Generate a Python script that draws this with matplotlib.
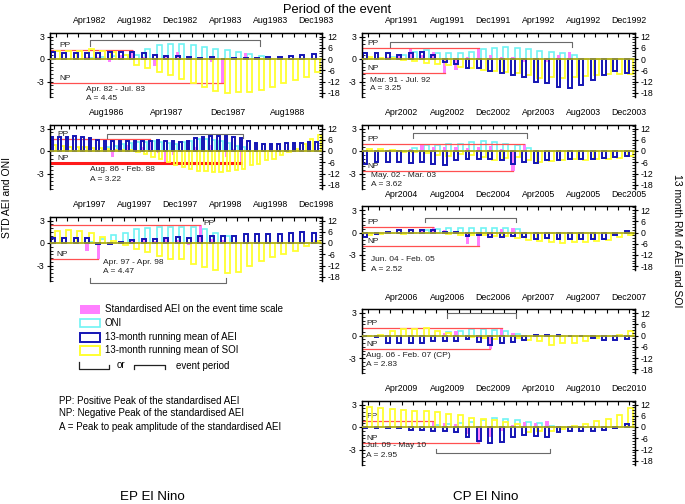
import numpy as np
import matplotlib
matplotlib.use('Agg')
import matplotlib.pyplot as plt
from matplotlib.ticker import MultipleLocator
from matplotlib.patches import Rectangle

plt.rcParams['font.family'] = ['Liberation Sans', 'DejaVu Sans']
plt.rcParams['axes.unicode_minus'] = False

N = None
MONTHS = ['Jan', 'Feb', 'Mar', 'Apr', 'May', 'Jun', 'Jul', 'Aug', 'Sep', 'Oct', 'Nov', 'Dec']

# ---------------- EP El Nino 1982-83 ----------------
L1_start = 1982
L1_ticks = ['Apr1982', 'Aug1982', 'Dec1982', 'Apr1983', 'Aug1983', 'Dec1983']
L1_oni = [N, N, N, 0.2, 0.3, 0.4, 0.5, 0.6, 1.4, 1.9, 2.0, 2.0, 1.9, 1.6, 1.4, 1.15, 0.9, 0.7, 0.35, N, N, N, N, N]
L1_aei = [N, N, N, 0.3, 0.3, -0.35, 0.5, 1.2, 0.3, -0.9, 0.4, 0.9, 0.3, 0.2, -0.4, -3.25, 0.2, 0.8, 0.3, N, N, N, N, N]
L1_rm_aei = [3.5, 3.3, 3.3, 3.3, 3.3, 3.5, 3.7, 3.7, 3.4, 2.0, 1.4, 1.4, 1.0, 0.7, 1.0, 0.2, 0.5, 0.7, 0.4, 0.9, 1.2, 1.4, 2.1, 2.7]
L1_rm_soi = [4.5, 4.5, 4.5, 5.5, 4.5, 3.5, 2.0, -3.0, -5.0, -6.7, -8.7, -10.5, -12.8, -15.0, -17.0, -18.0, -17.6, -17.4, -16.5, -15.1, -13.0, -11.2, -9.4, -6.8]
L1_period = 'Apr. 82 - Jul. 83'
L1_amp = 'A = 4.45'

# ---------------- EP El Nino 1986-88 ----------------
L2_start = 1986
L2_ticks = ['Aug1986', 'Apr1987', 'Dec1987', 'Aug1988']
L2_oni = [N, N, N, N, N, N, N, 0.5, 0.7, 0.9, 1.1, 1.2, 1.2, 1.3, 1.2, 1.1, 1.0, 1.2, 1.4, 1.6, 1.6, 1.5, 1.3, 1.1, 0.7, 0.5,
          N, N, N, N, N, N, N, N, N, N]
L2_aei = [N, N, N, N, N, N, N, 0.3, -0.8, 0.5, 0.8, 0.4, 0.6, 1.65, -0.3, -1.4, -0.5, 0.2, 0.5, 0.5, 0.3, 0.8, 0.2, -0.8, 0.3, -1.57,
          N, N, N, N, N, N, N, N, N, N]
L2_rm_aei = [7.5, 7.5, 7.5, 7.8, 7.5, 7.0, 6.0, 5.5, 5.5, 5.5, 5.5, 5.5, 5.5, 5.5, 5.8, 5.5, 5.2, 5.0, 5.5, 7.0, 7.5, 7.8, 8.0, 7.8,
             7.5, 7.0, 5.5, 4.5, 4.0, 4.0, 4.0, 4.2, 4.5, 4.5, 4.8, 5.0]
L2_rm_soi = [3.0, 2.5, 2.0, 2.0, 2.0, 1.5, 1.5, 1.0, 0.5, 0.5, 0.5, -0.5, -1.5, -3.0, -4.0, -6.0, -7.5, -8.5, -9.5, -10.4, -10.5,
             -11.0, -11.0, -10.5, -10.0, -9.5, -7.7, -6.8, -5.0, -4.0, -2.3, -0.5, 1.0, 4.0, 6.6, 8.4]
L2_period = 'Aug. 86 - Feb. 88'
L2_amp = 'A = 3.22'

# ---------------- EP El Nino 1997-98 ----------------
L3_start = 1997
L3_ticks = ['Apr1997', 'Aug1997', 'Dec1997', 'Apr1998', 'Aug1998', 'Dec1998']
L3_oni = [N, N, N, 0.1, 0.5, 1.07, 1.4, 1.9, 2.0, 2.1, 2.2, 2.2, 2.1, 1.9, 1.3, 1.0, N, N, N, N, N, N, N, N]
L3_aei = [N, N, N, -1.0, -2.07, -0.3, 0.2, 0.3, 0.4, 0.3, 0.5, 0.4, -0.2, 2.4, 0.6, 0.4, N, N, N, N, N, N, N, N]
L3_rm_aei = [2.5, 2.5, 2.5, 2.5, -0.5, -0.5, 0.3, 1.8, 2.1, 2.1, 2.5, 3.0, 2.7, 3.6, 4.0, 4.0, 3.8, 4.8, 5.0, 5.0, 5.0, 5.4, 5.7, 5.4]
L3_rm_soi = [6.6, 7.1, 6.6, 5.4, 3.0, 1.2, -1.1, -3.2, -5.0, -6.8, -8.6, -8.6, -11.3, -13.0, -14.3, -16.0, -15.4, -12.5, -9.5,
             -7.7, -5.9, -4.1, -1.4, 1.0]
L3_period = 'Apr. 97 - Apr. 98'
L3_amp = 'A = 4.47'

# ---------------- CP El Nino 1991-92 ----------------
R1_start = 1991
R1_ticks = ['Apr1991', 'Aug1991', 'Dec1991', 'Apr1992', 'Aug1992', 'Dec1992']
R1_oni = [N, N, 0.3, 0.5, 1.0, 1.2, 0.75, 0.75, 0.75, 1.0, 1.3, 1.5, 1.65, 1.5, 1.3, 1.1, 1.0, 0.75, 0.5, N, N, N, N, N]
R1_aei = [N, N, 0.3, 0.5, 1.3, 0.6, 0.9, -1.82, -1.5, 0.3, 1.43, 0.5, 0.3, 0.3, -0.4, 0.2, -0.4, 0.5, 0.9, N, N, N, N, N]
R1_rm_aei = [3.0, 3.4, 3.4, 2.1, 3.4, 3.6, 2.1, -1.4, -2.7, -5.0, -5.0, -6.2, -7.3, -8.5, -9.8, -12.0, -12.6, -15.0, -15.6,
             -13.9, -11.2, -8.5, -6.2, -7.3]
R1_rm_soi = [1.2, 0.5, 0.5, -0.5, -1.0, -2.3, -2.7, -3.2, -4.1, -5.0, -5.9, -6.2, -6.8, -7.6, -8.5, -10.3, -9.8, -10.3, -9.8,
             -9.0, -8.5, -8.0, -8.0, -8.0]
R1_period = 'Mar. 91 - Jul. 92'
R1_amp = 'A = 3.25'

# ---------------- CP El Nino 2002-03 ----------------
R2_start = 2002
R2_ticks = ['Apr2002', 'Aug2002', 'Dec2002', 'Apr2003', 'Aug2003', 'Dec2003']
R2_oni = [N, N, N, N, 0.45, 0.85, 0.75, 1.0, 1.0, 1.2, 1.35, 1.2, 1.0, 0.75, 0.45, N, N, N, N, N, N, N, N, N]
R2_aei = [N, N, N, N, 0.3, 0.9, 0.6, 0.5, 0.6, 0.4, 0.5, 0.7, 0.3, -2.62, 1.0, N, N, N, N, N, N, N, N, N]
R2_rm_aei = [-6.8, -5.9, -5.9, -5.9, -6.2, -5.9, -6.8, -7.6, -5.0, -4.1, -4.1, -4.1, -4.6, -7.1, -5.9, -6.4, -5.0, -4.6,
             -4.1, -4.1, -4.1, -3.7, -3.2, -2.8]
R2_rm_soi = [1.0, 1.0, 0.5, -0.3, -0.5, -1.0, -2.0, -2.5, -1.5, -2.0, -3.0, -5.0, -3.5, -3.0, -5.0, -6.0, -5.5, -5.0, -4.5,
             -5.0, -4.5, -4.0, -3.5, -2.5]
R2_period = 'May. 02 - Mar. 03'
R2_amp = 'A = 3.62'

# ---------------- CP El Nino 2004-05 ----------------
R3_start = 2004
R3_ticks = ['Apr2004', 'Aug2004', 'Dec2004', 'Apr2005', 'Aug2005', 'Dec2005']
R3_oni = [N, N, N, N, N, 0.3, 0.45, 0.6, 0.6, 0.6, 0.6, 0.6, 0.6, 0.45, N, N, N, N, N, N, N, N, N, N]
R3_aei = [N, N, N, N, N, 0.5, 0.7, 0.4, 0.2, -1.55, -1.82, -0.3, 0.45, 0.55, N, N, N, N, N, N, N, N, N, N]
R3_rm_aei = [-2.3, -1.0, 0.5, 1.3, 1.5, 1.5, 1.3, 0.5, 0.3, -2.0, -1.5, -2.3, -2.3, -2.0, -2.5, -3.2, -3.0, -3.6, -3.6,
             -3.2, -3.6, -3.6, -1.5, 0.8]
R3_rm_soi = [-1.5, -1.0, -0.5, -0.8, -0.5, -0.5, -0.5, -1.0, -1.5, -1.2, -1.5, -2.0, -2.0, -3.0, -4.0, -4.5, -5.3, -5.5,
             -5.3, -5.0, -4.5, -4.0, -2.5, -1.5]
R3_period = 'Jun. 04 - Feb. 05'
R3_amp = 'A = 2.52'

# ---------------- CP El Nino 2006-07 ----------------
R4_start = 2006
R4_ticks = ['Apr2006', 'Aug2006', 'Dec2006', 'Apr2007', 'Aug2007', 'Dec2007']
R4_oni = [N, N, N, N, N, N, N, 0.45, 0.65, 0.9, 0.9, 0.8, 0.6, 0.2, N, N, N, N, N, N, N, N, N, N]
R4_aei = [N, N, N, N, N, N, N, 0.3, 0.65, 0.1, -0.3, -1.78, 1.05, 0.3, N, N, N, N, N, N, N, N, N, N]
R4_rm_aei = [-0.5, -1.0, -3.9, -4.0, -4.0, -4.0, -3.0, -3.0, -3.0, -1.8, -3.6, -5.3, -4.0, -3.6, -2.5, 0.3, 0.3, 0.2,
             -0.3, -0.5, -1.2, -2.5, -2.5, -2.0]
R4_rm_soi = [-0.5, 0.5, 2.5, 3.5, 3.5, 3.8, 2.5, 1.5, -0.5, -1.0, -1.5, -2.0, -0.5, -1.5, -2.5, -3.0, -5.3, -4.0, -4.0,
             -3.0, -1.5, -0.5, 0.5, 2.5]
R4_period = 'Aug. 06 - Feb. 07 (CP)'
R4_amp = 'A = 2.83'

# ---------------- CP El Nino 2009-10 ----------------
R5_start = 2009
R5_ticks = ['Apr2009', 'Aug2009', 'Dec2009', 'Apr2010', 'Aug2010', 'Dec2010']
R5_oni = [N, N, N, N, N, N, 0.3, 0.4, 0.5, 0.7, 0.9, 1.25, 1.1, 0.9, 0.65, 0.55, 0.2, N, N, N, N, N, N, N]
R5_aei = [N, N, N, N, N, N, 0.85, 0.6, 0.4, -0.9, -2.1, -1.3, -0.5, 0.3, 0.7, 0.5, 0.75, N, N, N, N, N, N, N]
R5_rm_aei = [-0.3, -0.3, -0.3, -0.3, -1.5, -1.5, -2.0, -2.0, -2.5, -5.3, -7.5, -8.5, -8.0, -5.5, -4.3, -5.0, -5.5, -2.5,
             -2.0, -2.0, -2.0, -1.5, -0.5, 1.5]
R5_rm_soi = [10.7, 10.1, 9.8, 9.2, 8.5, 8.5, 8.0, 7.1, 6.6, 5.0, 4.1, 3.5, 2.7, 1.5, -2.7, -2.0, -2.0, -1.0, 0.5, 1.5,
             3.0, 4.4, 6.2, 10.3]
R5_period = 'Jul. 09 - May 10'
R5_amp = 'A = 2.95'

legend_labels = ['Standardised AEI on the event time scale', 'ONI', '13-month running mean of AEI',
                 '13-month running mean of SOI']
notes = ['PP: Positive Peak of the standardised AEI', 'NP: Negative Peak of the standardised AEI',
         'A = Peak to peak amplitude of the standardised AEI']

# ---------------- styles ----------------
PINK = '#ff80ff'
CYAN = '#70f4f4'
BLUE = '#1414b4'
YELLOW = '#ffff30'
RED = '#ff5050'
GRAY = '#6a6a6a'
OLIVE = '#a8a820'

W, H = 685, 504
fig = plt.figure(figsize=(W / 100, H / 100), dpi=100)

panels = [
    dict(start=L1_start, ticks=L1_ticks, oni=L1_oni, aei=L1_aei, rma=L1_rm_aei, rms=L1_rm_soi, period=L1_period, amp=L1_amp,
         col=0, y0=59, br=(2.5, -0.8), txt=(3.2, -4.05, -5.3), labx=0.8, pp_right=False, nplw=0.9),
    dict(start=L2_start, ticks=L2_ticks, oni=L2_oni, aei=L2_aei, rma=L2_rm_aei, rms=L2_rm_soi, period=L2_period, amp=L2_amp,
         col=0, y0=151, br=(2.3, -0.6), txt=(5.3, -2.5, -3.85), labx=1.0, pp_right=False, nplw=2.2),
    dict(start=L3_start, ticks=L3_ticks, oni=L3_oni, aei=L3_aei, rma=L3_rm_aei, rms=L3_rm_soi, period=L3_period, amp=L3_amp,
         col=0, y0=243, br=(-5.3, 0.6), txt=(4.65, -2.6, -3.85), labx=0.6, pp_right=True, nplw=0.9),
    dict(start=R1_start, ticks=R1_ticks, oni=R1_oni, aei=R1_aei, rma=R1_rm_aei, rms=R1_rm_soi, period=R1_period, amp=R1_amp,
         col=1, y0=59, br=(2.3, -0.7), txt=(0.7, -2.8, -4.0), labx=0.5, pp_right=False, nplw=0.9),
    dict(start=R2_start, ticks=R2_ticks, oni=R2_oni, aei=R2_aei, rma=R2_rm_aei, rms=R2_rm_soi, period=R2_period, amp=R2_amp,
         col=1, y0=151, br=(2.4, -0.7), txt=(0.8, -3.3, -4.5), labx=0.5, pp_right=False, nplw=0.9),
    dict(start=R3_start, ticks=R3_ticks, oni=R3_oni, aei=R3_aei, rma=R3_rm_aei, rms=R3_rm_soi, period=R3_period, amp=R3_amp,
         col=1, y0=232.5, br=(2.0, -0.6), txt=(0.8, -3.6, -4.9), labx=0.5, pp_right=False, nplw=0.9),
    dict(start=R4_start, ticks=R4_ticks, oni=R4_oni, aei=R4_aei, rma=R4_rm_aei, rms=R4_rm_soi, period=R4_period, amp=R4_amp,
         col=1, y0=335.5, br=(3.0, -0.7), txt=(0.35, -2.7, -3.85), labx=0.4, pp_right=False, nplw=0.9),
    dict(start=R5_start, ticks=R5_ticks, oni=R5_oni, aei=R5_aei, rma=R5_rm_aei, rms=R5_rm_soi, period=R5_period, amp=R5_amp,
         col=1, y0=427, br=(-3.5, 0.6), txt=(0.35, -2.5, -3.8), labx=0.4, pp_right=False, nplw=0.9),
]

COLS = [(50, 272), (362, 273)]
PX_TOP, PX_BOT = 26.25, 37.5
FS_TICK = 6.3
FS_ANN = 6.0

for p in panels:
    left, width = COLS[p['col']]
    rect = [left / W, 1 - (p['y0'] + PX_BOT) / H, width / W, (PX_TOP + PX_BOT) / H]
    ax = fig.add_axes(rect)
    ax2 = ax.twinx()
    n = len(p['rma'])
    m = np.arange(n)
    oni = np.array(p['oni'], dtype=float)
    aei = np.array(p['aei'], dtype=float)
    rma = np.array(p['rma'], dtype=float)
    rms = np.array(p['rms'], dtype=float)
    sel = ~np.isnan(oni)

    ax.bar(m[sel] + 0.64, oni[sel], 0.44, fill=False, edgecolor=CYAN, linewidth=1.2)
    ax.bar(m[sel] + 0.27, aei[sel], 0.28, color=PINK, linewidth=0)
    ax2.bar(m + 0.64, rms, 0.44, fill=False, edgecolor=YELLOW, linewidth=1.3)
    ax2.bar(m + 0.27, rma, 0.34, fill=False, edgecolor=BLUE, linewidth=1.4)
    ax2.axhline(0, color=OLIVE, linewidth=1.2, zorder=4)

    # peaks
    ipp = int(np.nanargmax(aei)); inp = int(np.nanargmin(aei))
    ax.plot([0, ipp + 0.27], [aei[ipp], aei[ipp]], color=RED, linewidth=0.9)
    ax.plot([0, inp + 0.27], [aei[inp], aei[inp]], color=RED if p['nplw'] < 1.5 else '#ff1a1a', linewidth=p['nplw'])
    if p['pp_right']:
        ax.text(ipp + 0.55, aei[ipp] + 0.15, 'PP', fontsize=FS_ANN, va='center', ha='left', color='#222222')
    else:
        ax.text(p['labx'], aei[ipp] + 0.12, 'PP', fontsize=FS_ANN, va='bottom', ha='left', color='#222222')
    ax.text(p['labx'], aei[inp] + 0.12, 'NP', fontsize=FS_ANN, va='bottom', ha='left', color='#222222')

    # event period bracket
    ev = np.where(sel)[0]
    xs, xe = ev[0] + 0.5, ev[-1] + 0.5
    by, bd = p['br']
    ax.plot([xs, xs, xe, xe], [by + bd, by, by, by + bd], color=GRAY, linewidth=0.8, clip_on=False)

    tx, ty1, ty2 = p['txt']
    ax.text(tx, ty1, p['period'], fontsize=FS_ANN, va='center', ha='left', color='#222222', clip_on=False)
    ax.text(tx, ty2, p['amp'], fontsize=FS_ANN, va='center', ha='left', color='#222222', clip_on=False)

    ax.set_xlim(0, n)
    ax.set_ylim(-5, 3.5)
    ax2.set_ylim(-20, 14)

    # x ticks every month, labels on top
    labels = [''] * n
    for t in p['ticks']:
        idx = (int(t[3:]) - p['start']) * 12 + MONTHS.index(t[:3])
        labels[idx] = t
    ax.set_xticks(m + 0.5, labels=labels)
    ax.tick_params(axis='x', which='major', direction='in', length=3, width=0.8, top=True, bottom=False,
                   labeltop=True, labelbottom=False, labelsize=FS_TICK, pad=5.5)

    ax.set_yticks([-3, 0, 3], labels=['-3', '0', '3'])
    ax.yaxis.set_minor_locator(MultipleLocator(0.5))
    ax.tick_params(axis='y', which='major', direction='inout', length=4, width=0.8, labelsize=FS_TICK, pad=2,
                   left=True, right=False)
    ax.tick_params(axis='y', which='minor', direction='in', length=2, width=0.6, left=True, right=False)

    ax2.set_yticks([-18, -12, -6, 0, 6, 12], labels=['-18', '-12', '-6', '0', '6', '12'])
    ax2.yaxis.set_minor_locator(MultipleLocator(1.5))
    ax2.tick_params(axis='y', which='major', direction='inout', length=4, width=0.8, labelsize=FS_TICK, pad=2)
    ax2.tick_params(axis='y', which='minor', direction='in', length=2, width=0.6)
    for a in (ax, ax2):
        for s in a.spines.values():
            s.set_linewidth(0.9)
        a.spines['bottom'].set_visible(False)

# ---------------- overlay: legend, notes, titles ----------------
lax = fig.add_axes([0, 0, 1, 1])
lax.set_xlim(0, W)
lax.set_ylim(H, 0)
lax.axis('off')

lax.add_patch(Rectangle((80, 305), 20.5, 9, facecolor=PINK, edgecolor='none'))
lax.add_patch(Rectangle((80.5, 318.5), 20, 8, facecolor='none', edgecolor=CYAN, linewidth=1.2))
lax.add_patch(Rectangle((80.5, 333), 20, 8.5, facecolor='none', edgecolor=BLUE, linewidth=1.4))
lax.add_patch(Rectangle((80.5, 346), 20, 8.5, facecolor='none', edgecolor=YELLOW, linewidth=1.4))
for lab, yy in zip(legend_labels, [309.5, 322.5, 337.5, 350]):
    lax.text(105, yy, lab, fontsize=7, va='center', ha='left')
lax.plot([79, 79, 109, 109], [362, 368.5, 368.5, 365], color='#222222', linewidth=0.9)
lax.text(117, 364.5, 'or', fontsize=7, va='center', ha='left')
lax.plot([134, 134, 165, 165], [369, 365, 365, 369], color='#222222', linewidth=0.9)
lax.text(176, 366, 'event period', fontsize=7, va='center', ha='left')
for t, yy in zip(notes, [400.5, 413.5, 426.5]):
    lax.text(59, yy, t, fontsize=7, va='center', ha='left')

fig.text(337 / W, 1 - 10 / H, 'Period of the event', fontsize=9.3, ha='center', va='center')
fig.text(152 / W, 1 - 497 / H, 'EP El Nino', fontsize=9.6, ha='center', va='center')
fig.text(486 / W, 1 - 497 / H, 'CP El Nino', fontsize=9.6, ha='center', va='center')
fig.text(7.5 / W, 1 - 198 / H, 'STD AEI and ONI', fontsize=7.5, rotation=90, ha='center', va='center')
fig.text(677 / W, 1 - 241 / H, '13 month RM of AEI and SOI', fontsize=7.5, rotation=270, ha='center', va='center')

fig.savefig('out.png', dpi=100)
